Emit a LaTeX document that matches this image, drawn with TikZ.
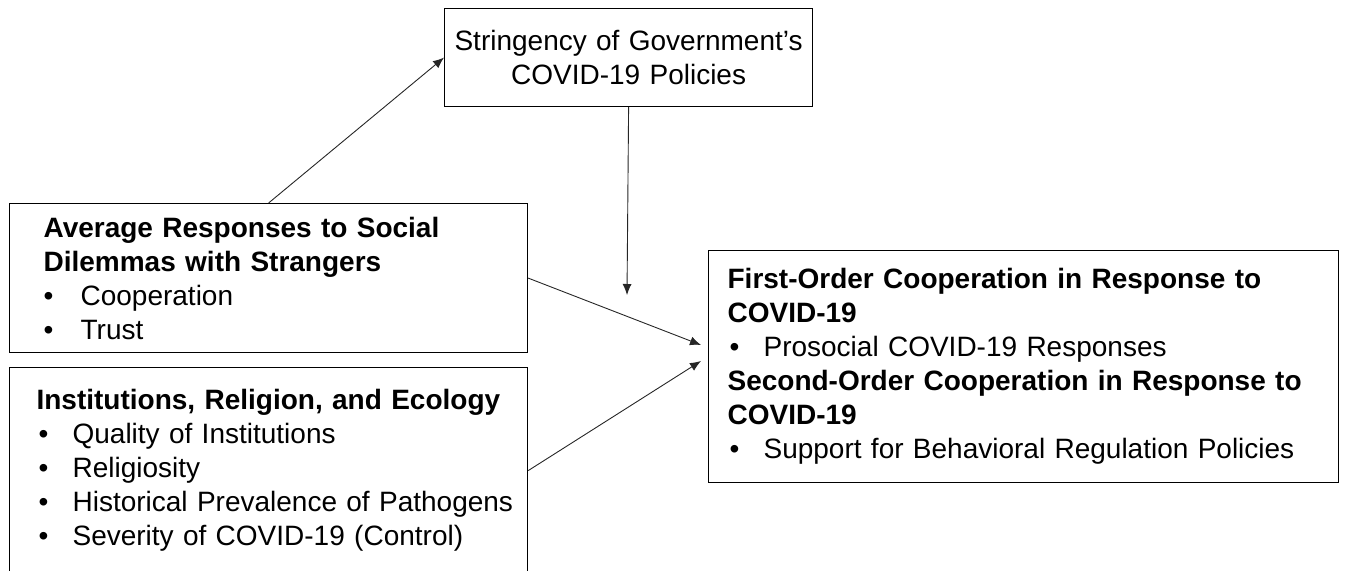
\documentclass[tikz,border=0pt]{standalone}
\usepackage{fontspec}
\setmainfont{Liberation Sans}
\usetikzlibrary{arrows.meta}
\newcommand{\mybul}[1]{\makebox[#1][l]{•}}
\begin{document}
\begin{tikzpicture}[x=1pt,y=-1pt,
  box/.style={draw=black,line width=1.2pt,inner sep=0pt,anchor=north west,align=left,
    font=\fontsize{28}{34}\selectfont},
  conn/.style={draw=black!85,line width=0.9pt,-{Latex[length=11pt,width=9pt]}}]
\useasboundingbox (0,0) rectangle (1348,570);
\node[box, text width=368pt, minimum height=98pt, align=center] (top) at (444,8)
  {Stringency of Government’s\\COVID-19 Policies};
\node[box, text width=518pt, minimum height=149pt] (avg) at (9,203)
  {\hspace*{34pt}\textbf{Average Responses to Social}\\
   \hspace*{34pt}\textbf{Dilemmas with Strangers}\\
   \hspace*{34pt}\mybul{37pt}Cooperation\\
   \hspace*{34pt}\mybul{37pt}Trust};
\node[box, text width=518pt, minimum height=206pt] (inst) at (9,367)
  {\hspace*{27pt}\textbf{Institutions, Religion, and Ecology}\\
   \hspace*{29pt}\mybul{34pt}Quality of Institutions\\
   \hspace*{29pt}\mybul{34pt}Religiosity\\
   \hspace*{29pt}\mybul{34pt}Historical Prevalence of Pathogens\\
   \hspace*{29pt}\mybul{34pt}Severity of COVID-19 (Control)};
\node[box, text width=630pt, minimum height=232pt] (coop) at (708,250)
  {\hspace*{19pt}\textbf{First-Order Cooperation in Response to}\\
   \hspace*{19pt}\textbf{COVID-19}\\
   \hspace*{21pt}\mybul{34pt}Prosocial COVID-19 Responses\\
   \hspace*{19pt}\textbf{Second-Order Cooperation in Response to}\\
   \hspace*{19pt}\textbf{COVID-19}\\
   \hspace*{21pt}\mybul{34pt}Support for Behavioral Regulation Policies};
\coordinate (tipS) at (627,295);
\coordinate (tipA) at (701,345);
\coordinate (tipB) at (701,361);
\draw[conn] (avg.north) -- (top.west);
\draw[conn] (top.south) -- (tipS);
\draw[conn] (avg.east) -- (tipA);
\draw[conn] (inst.east) -- (tipB);
\end{tikzpicture}
\end{document}
